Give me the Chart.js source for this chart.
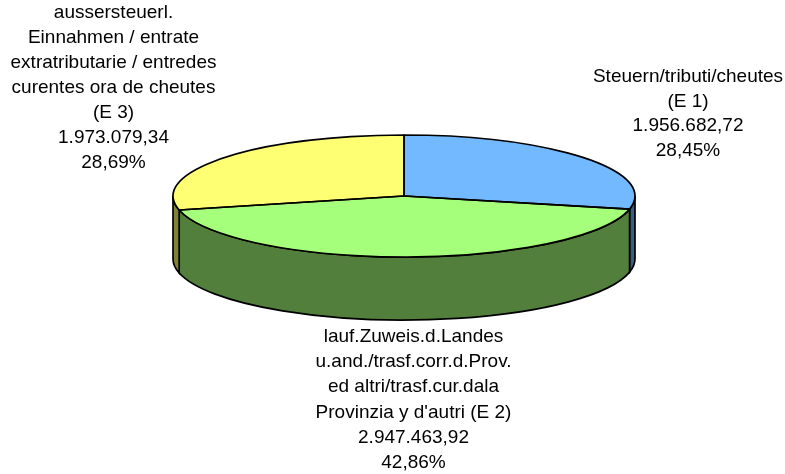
<!DOCTYPE html>
<html>
<head>
<meta charset="utf-8">
<script src="https://cdn.jsdelivr.net/npm/chart.js@4/dist/chart.umd.js"></script>
<style>
  html, body { margin: 0; padding: 0; background: #fff; }
  canvas { display: block; }
</style>
</head>
<body>
<canvas id="pie" width="785" height="474"></canvas>
<script>
const categories = ['Steuern (E 1)', 'lauf.Zuweis (E 2)', 'aussersteuerl. (E 3)'];
const values = [1956682.72, 2947463.92, 1973079.34];
const topColors = ['#73B9FF', '#A6FF7A', '#FFFF73'];
const sideColors = ['#3A5D80', '#537F3D', '#80803A'];

const labelLines = [
  ['Steuern/tributi/cheutes', '(E 1)', '1.956.682,72', '28,45%'],
  ['lauf.Zuweis.d.Landes', 'u.and./trasf.corr.d.Prov.', 'ed altri/trasf.cur.dala', "Provinzia y d'autri (E 2)", '2.947.463,92', '42,86%'],
  ['aussersteuerl.', 'Einnahmen / entrate', 'extratributarie / entredes', 'curentes ora de cheutes', '(E 3)', '1.973.079,34', '28,69%']
];
const labelAnchors = [[688, 77, 24.7], [413.5, 337, 25.2], [113.5, 13, 25]];

// the pie is laid out as a circle, then squashed to look like a tilted disc
const tiltCenterY = 196;
const tilt = 61 / 231;
const depth = 63;

const tiltedPie = {
  id: 'tiltedPie',
  beforeDatasetsDraw(chart) {
    const ctx = chart.ctx;
    const arcs = chart.getDatasetMeta(0).data;
    ctx.save();
    ctx.lineWidth = 1.7;
    ctx.strokeStyle = '#000';
    arcs.forEach((arc, i) => {
      const { x, startAngle, endAngle, outerRadius } = arc;
      const ry = outerRadius * tilt;
      // only the part of the rim facing the viewer (canvas angles 0..PI, also 2PI..3PI)
      [0, 2 * Math.PI].forEach(shift => {
        const a = Math.max(startAngle, shift);
        const b = Math.min(endAngle, shift + Math.PI);
        if (b <= a) return;
        ctx.beginPath();
        ctx.ellipse(x, tiltCenterY, outerRadius, ry, 0, a, b);
        ctx.ellipse(x, tiltCenterY + depth, outerRadius, ry, 0, b, a, true);
        ctx.closePath();
        ctx.fillStyle = sideColors[i];
        ctx.fill();
        ctx.stroke();
      });
    });
    ctx.restore();

    ctx.save();
    const y0 = arcs[0].y;
    ctx.translate(0, tiltCenterY);
    ctx.scale(1, tilt);
    ctx.translate(0, -y0);
  },
  afterDatasetsDraw(chart) {
    const ctx = chart.ctx;
    ctx.restore();

    ctx.save();
    ctx.lineWidth = 1.7;
    ctx.strokeStyle = '#000';
    ctx.lineJoin = 'round';
    chart.getDatasetMeta(0).data.forEach(arc => {
      const { x, startAngle, endAngle, outerRadius } = arc;
      ctx.beginPath();
      ctx.moveTo(x, tiltCenterY);
      ctx.ellipse(x, tiltCenterY, outerRadius, outerRadius * tilt, 0, startAngle, endAngle);
      ctx.closePath();
      ctx.stroke();
    });
    ctx.restore();
  },
  afterDraw(chart) {
    const ctx = chart.ctx;
    ctx.save();
    ctx.font = '19px "Liberation Sans", Arial, sans-serif';
    ctx.fillStyle = '#000';
    ctx.textAlign = 'center';
    ctx.textBaseline = 'middle';
    labelLines.forEach((lines, i) => {
      const [ax, ay, step] = labelAnchors[i];
      lines.forEach((line, n) => {
        ctx.fillText(line, ax, Math.round(ay + n * step));
      });
    });
    ctx.restore();
  }
};

new Chart(document.getElementById('pie'), {
  type: 'pie',
  data: {
    labels: categories,
    datasets: [{
      data: values,
      backgroundColor: topColors,
      borderWidth: 0,
      hoverBorderWidth: 0,
      clip: false
    }]
  },
  options: {
    responsive: false,
    animation: false,
    events: [],
    layout: { padding: { left: 23, right: 0, top: 6, bottom: 6 } },
    plugins: {
      legend: { display: false },
      tooltip: { enabled: false }
    }
  },
  plugins: [tiltedPie]
});
</script>
</body>
</html>
